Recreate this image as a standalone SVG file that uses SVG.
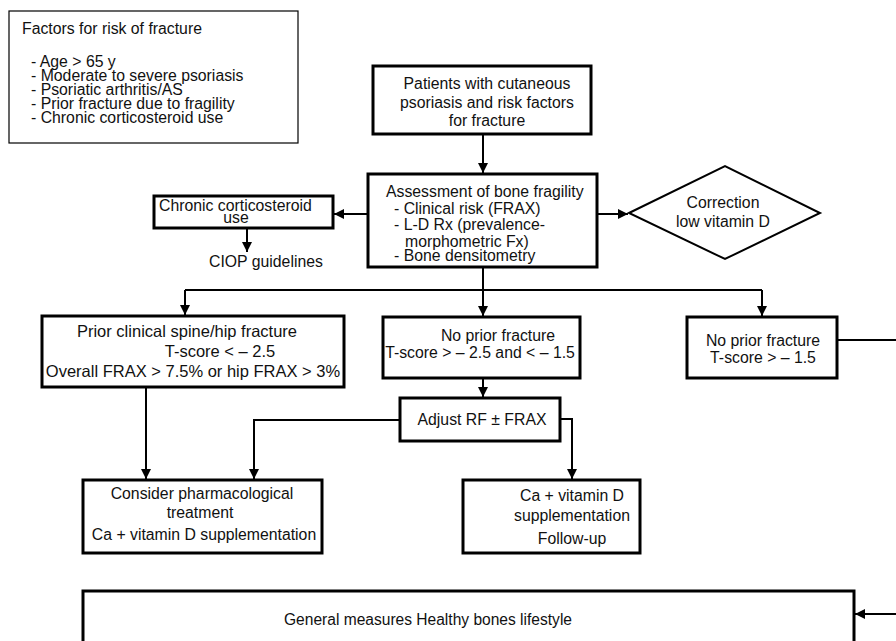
<svg xmlns="http://www.w3.org/2000/svg" width="896" height="641" viewBox="0 0 896 641">
<defs>
<style>
text{font-family:"Liberation Sans",Arial,sans-serif;font-size:15.8px;fill:#111}
.c{text-anchor:middle}
.big{font-size:16.5px}
.box{fill:#fff;stroke:#000;stroke-width:3}
.thin{fill:#fff;stroke:#000;stroke-width:1.2}
.ln{fill:none;stroke:#000;stroke-width:2}
.ar{fill:none;stroke:#000;stroke-width:2;marker-end:url(#ah)}
</style>
<marker id="ah" viewBox="0 0 10 10" refX="10" refY="5" markerWidth="5" markerHeight="5" orient="auto" markerUnits="strokeWidth">
<path d="M0,0 L10,5 L0,10 z" fill="#000"/>
</marker>
</defs>
<rect width="896" height="641" fill="#fff"/>

<g id="factors">
<rect class="thin" x="9" y="11" width="289" height="132"/>
<text x="22" y="34">Factors for risk of fracture</text>
<text x="31" y="67">- Age &gt; 65 y</text>
<text x="31" y="81">- Moderate to severe psoriasis</text>
<text x="31" y="95">- Psoriatic arthritis/AS</text>
<text x="31" y="109">- Prior fracture due to fragility</text>
<text x="31" y="123">- Chronic corticosteroid use</text>
</g>

<g id="patients">
<rect class="box" x="373" y="66" width="218" height="68"/>
<text class="c" x="487" y="89">Patients with cutaneous</text>
<text class="c" x="487" y="108">psoriasis and risk factors</text>
<text class="c" x="487" y="126">for fracture</text>
</g>

<g id="connectors">
<line class="ar" x1="483" y1="134" x2="483" y2="173"/>
<line class="ar" x1="368" y1="214" x2="334" y2="214"/>
<line class="ar" x1="247" y1="222" x2="247" y2="252"/>
<line class="ar" x1="595" y1="214" x2="628" y2="214"/>
<polyline class="ln" points="483,267 483,290"/>
<polyline class="ln" points="185,290 762,290"/>
<line class="ar" x1="185" y1="290" x2="185" y2="315"/>
<line class="ar" x1="483" y1="290" x2="483" y2="316"/>
<line class="ar" x1="762" y1="290" x2="762" y2="316"/>
<line class="ar" x1="483" y1="354" x2="483" y2="397"/>
<line class="ar" x1="146" y1="372" x2="146" y2="479"/>
<polyline class="ar" points="400,420 254,420 254,479"/>
<polyline class="ar" points="560,419 572,419 572,479"/>
<line class="ln" x1="837" y1="340" x2="896" y2="340"/>
<line class="ar" x1="896" y1="614" x2="855" y2="614"/>
</g>

<g id="assessment">
<rect class="box" x="368" y="174" width="229" height="93"/>
<text x="386" y="197">Assessment of bone fragility</text>
<text x="394" y="214">- Clinical risk (FRAX)</text>
<text x="394" y="230">- L-D Rx (prevalence-</text>
<text x="405" y="247">morphometric Fx)</text>
<text x="394" y="261">- Bone densitometry</text>
</g>

<g id="chronic">
<rect class="box" x="154" y="196" width="179" height="32"/>
<text x="159" y="211">Chronic corticosteroid</text>
<text class="c" x="236" y="223">use</text>
</g>

<g id="ciop">
<text x="209" y="267">CIOP guidelines</text>
</g>

<g id="vitd">
<polygon points="629,213 725,166 820,213 725,259" fill="#fff" stroke="#000" stroke-width="2"/>
<text class="c" x="723" y="208">Correction</text>
<text class="c" x="723" y="227">low vitamin D</text>
</g>

<g id="prior">
<rect class="box" x="42" y="316" width="302" height="71"/>
<text class="c big" x="187" y="337">Prior clinical spine/hip fracture</text>
<text class="c big" x="220" y="357">T-score &lt; – 2.5</text>
<text class="c big" x="193" y="377">Overall FRAX &gt; 7.5% or hip FRAX &gt; 3%</text>
</g>

<g id="noprior-mid">
<rect class="box" x="383" y="317" width="197" height="61"/>
<text class="c" x="498" y="341">No prior fracture</text>
<text class="c" x="480" y="358">T-score &gt; – 2.5 and &lt; – 1.5</text>
</g>

<g id="noprior-right">
<rect class="box" x="687" y="317" width="150" height="61"/>
<text class="c" x="763" y="346">No prior fracture</text>
<text class="c" x="763" y="363">T-score &gt; – 1.5</text>
</g>

<g id="adjust">
<rect class="box" x="400" y="398" width="160" height="43"/>
<text class="c" x="482" y="425">Adjust RF ± FRAX</text>
</g>

<g id="pharma">
<rect class="box" x="83" y="480" width="239" height="73"/>
<text class="c" x="202" y="499">Consider pharmacological</text>
<text class="c" x="200" y="518">treatment</text>
<text class="c" x="204" y="540">Ca + vitamin D supplementation</text>
</g>

<g id="supp">
<rect class="box" x="463" y="480" width="177" height="73"/>
<text class="c" x="572" y="501">Ca + vitamin D</text>
<text class="c" x="572" y="521">supplementation</text>
<text class="c" x="572" y="544">Follow-up</text>
</g>

<g id="general">
<rect class="box" x="83" y="591" width="771" height="60"/>
<text class="c" x="428" y="625" textLength="288" lengthAdjust="spacingAndGlyphs">General measures  Healthy bones lifestyle</text>
</g>
</svg>
